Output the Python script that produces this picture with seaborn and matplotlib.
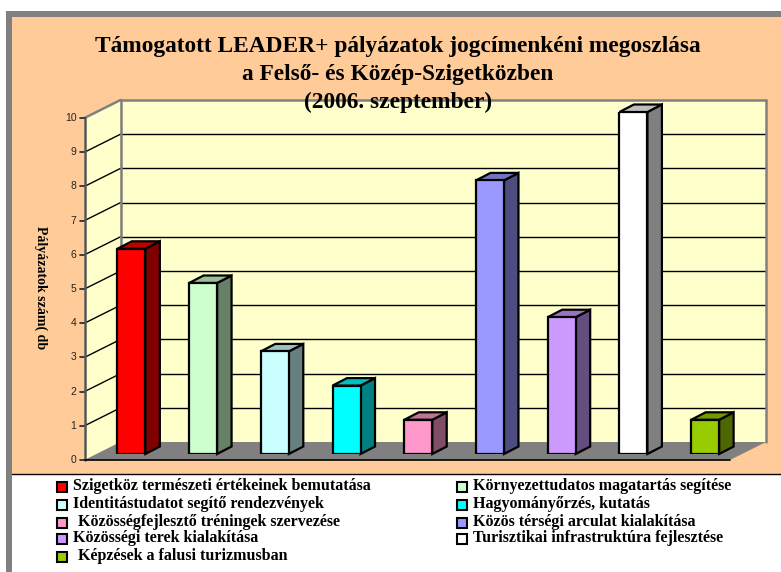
import pandas as pd
import seaborn as sns
import matplotlib.pyplot as plt
from matplotlib.colors import to_rgb
from matplotlib.patches import Polygon, Rectangle

W, H = 781, 572

jogcimek = [
    "Szigetköz természeti értékeinek bemutatása",
    "Környezettudatos magatartás segítése",
    "Identitástudatot segítő rendezvények",
    "Hagyományőrzés, kutatás",
    "Közösségfejlesztő tréningek szervezése",
    "Közös térségi arculat kialakítása",
    "Közösségi terek kialakítása",
    "Turisztikai infrastruktúra fejlesztése",
    "Képzések a falusi turizmusban",
]
palyazatok = [6, 5, 3, 2, 1, 8, 4, 10, 1]
szinek = ["#FF0000", "#CCFFCC", "#CCFFFF", "#00FFFF", "#FF99CC",
          "#9999FF", "#CC99FF", "#FFFFFF", "#99CC00"]
y_ticks = [0, 1, 2, 3, 4, 5, 6, 7, 8, 9, 10]

cim = "Támogatott LEADER+ pályázatok jogcímenkéni megoszlása\na Felső- és Közép-Szigetközben\n(2006. szeptember)"
y_cim = "Pályázatok szám( db"

sns.set_theme(style="white")
plt.rcParams["font.family"] = ["Liberation Serif", "DejaVu Serif"]

fig = plt.figure(figsize=(W / 100, H / 100), dpi=100)
fig.patch.set_facecolor("white")

# background layer in pixel coordinates
bg = fig.add_axes([0, 0, 1, 1], zorder=0)
bg.set_xlim(0, W)
bg.set_ylim(H, 0)
bg.axis("off")
bg.add_patch(Rectangle((6, 11), W - 6, H - 11, fc="#808080", ec="none"))
bg.add_patch(Rectangle((12, 17), W - 12, H - 17, fc="white", ec="none"))
bg.add_patch(Rectangle((12, 17), W - 12, 457, fc="#FFCC99", ec="none"))
bg.plot([12, W], [474, 474], color="black", lw=1)

# chart axes sit on the plane of the bar fronts
left, right, top, bottom = 95.5, 741, 112, 454
ax = fig.add_axes([left / W, 1 - bottom / H, (right - left) / W, (bottom - top) / H], zorder=1)
ax.patch.set_alpha(0)

df = pd.DataFrame({"jogcim": jogcimek, "db": palyazatok})
sns.barplot(data=df, x="jogcim", y="db", hue="jogcim", palette=szinek, saturation=1,
            dodge=False, legend=False, width=0.39, edgecolor="black", linewidth=1.6,
            ax=ax, zorder=3)
ax.set_xlim(-0.5, 8.5)
ax.set_ylim(0, 10)
ax.axis("off")
bars = list(ax.patches)

px = 9 / (right - left)
py = 10 / (bottom - top)


def off(x, y, dx, dy):
    # shift a data point by a pixel offset (dy up)
    return (x + dx * px, y + dy * py)


def poly(points, **kw):
    ax.add_patch(Polygon(points, closed=True, clip_on=False, **kw))


def line(a, b, **kw):
    ax.plot([a[0], b[0]], [a[1], b[1]], clip_on=False, **kw)


x0, x1 = ax.get_xlim()
ymax = y_ticks[-1]
fl, fb = (-11, -6), (25, 12)  # front and back planes relative to the bars

# walls and floor
poly([off(x0, 0, *fb), off(x1, 0, *fb), off(x1, ymax, *fb), off(x0, ymax, *fb)],
     fc="#FFFFCC", ec="none", zorder=0)
poly([off(x0, 0, *fl), off(x0, 0, *fb), off(x0, ymax, *fb), off(x0, ymax, *fl)],
     fc="#FFFFCC", ec="none", zorder=0)
poly([off(x0, 0, *fl), off(x1, 0, *fl), off(x1, 0, *fb), off(x0, 0, *fb)],
     fc="#808080", ec="none", zorder=1)

# grid on the walls, axis ticks
for t in y_ticks:
    a, b, c = off(x0, t, *fl), off(x0, t, *fb), off(x1, t, *fb)
    if 0 < t < ymax:
        line(a, b, color="black", lw=1, zorder=1)
        line(b, c, color="black", lw=1, zorder=1)
    line(off(x0, t, fl[0] - 5, fl[1]), a, color="#222222", lw=1.2, zorder=2)
    lab = off(x0, t, fl[0] - 8, fl[1])
    ax.text(lab[0], lab[1], str(t), ha="right", va="center", fontsize=7.5,
            family="Liberation Sans", color="#222222")

# wall outlines
line(off(x0, ymax, *fl), off(x0, ymax, *fb), color="#808080", lw=1.8, zorder=1.5)
line(off(x0, ymax, *fb), off(x1, ymax, *fb), color="#808080", lw=1.8, zorder=1.5)
line(off(x1, ymax, *fb), off(x1, 0, *fb), color="#808080", lw=1.8, zorder=1.5)
line(off(x0, 0, *fb), off(x0, ymax, *fb), color="#808080", lw=1.8, zorder=1.5)
line(off(x0, 0, *fl), off(x0, ymax, *fl), color="#555555", lw=1.8, zorder=2)
line(off(x0, 0, *fl), off(x1, 0, *fl), color="black", lw=1.2, zorder=2)

# 3D faces built from the bars seaborn drew
dep = (14.5, 7.5)
for bar, szin in zip(bars, szinek):
    bx, bw, bh = bar.get_x(), bar.get_width(), bar.get_height()
    rgb = to_rgb(szin)
    oldal = tuple(v * 0.5 for v in rgb)
    teto = tuple(v * 0.75 for v in rgb)
    poly([(bx + bw, 0), off(bx + bw, 0, *dep), off(bx + bw, bh, *dep), (bx + bw, bh)],
         fc=oldal, ec="black", lw=1.6, zorder=2.8)
    poly([(bx, bh), (bx + bw, bh), off(bx + bw, bh, *dep), off(bx, bh, *dep)],
         fc=teto, ec="black", lw=1.6, zorder=2.8)

fig.text(398 / W, 1 - 74.5 / H, cim, ha="center", va="center", fontsize=16.8, fontweight="bold",
         linespacing=1.43, color="black", zorder=5)
fig.text(41 / W, 1 - 288 / H, y_cim, rotation=-90, ha="center", va="center", fontsize=10,
         fontweight="bold", color="black", zorder=5)

# legend, two columns filled row by row
sor_y = [486, 504, 522, 538, 556]
for i, (nev, szin) in enumerate(zip(jogcimek, szinek)):
    sx = 57 if i % 2 == 0 else 457
    sy = sor_y[i // 2]
    bg.add_patch(Rectangle((sx, sy - 4), 10, 10, fc=szin, ec="black", lw=1.5))
    tx = sx + (21 if i in (4, 8) else 16)
    bg.text(tx, sy + 0.5, nev, ha="left", va="center", fontsize=11.5, fontweight="bold", color="black")

fig.savefig("out.png", dpi=100)
